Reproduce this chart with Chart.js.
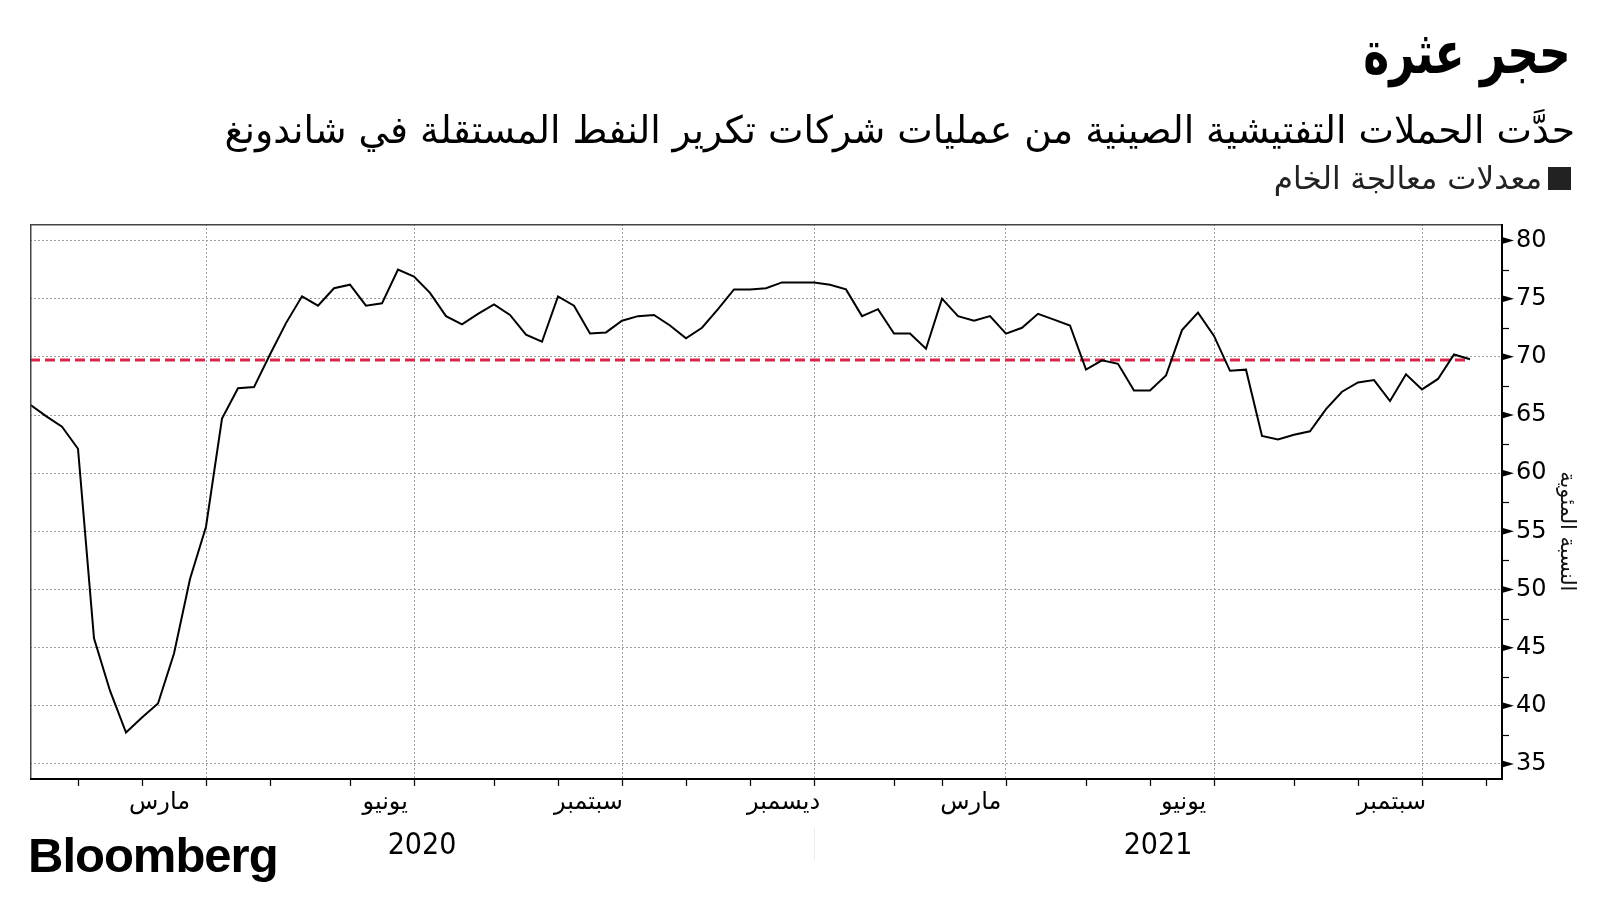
<!DOCTYPE html>
<html>
<head>
<meta charset="utf-8">
<script src="https://cdn.jsdelivr.net/npm/chart.js@4/dist/chart.umd.min.js"></script>
<style>
html,body{margin:0;padding:0;background:#fff;width:1600px;height:900px;overflow:hidden}
#wrap{position:relative;width:1600px;height:900px}
#c{position:absolute;left:0;top:0}
.t{position:absolute;white-space:nowrap;direction:rtl;font-family:"DejaVu Sans",sans-serif;color:#000;line-height:1}
#title{right:29px;top:23px;font-size:50px;font-weight:bold;transform:scale(0.88,1.18);transform-origin:right top}
#subtitle{right:25px;top:112px;font-size:37.7px}
#legend{right:29px;top:163px;font-size:31px;color:#222;display:flex;align-items:center}
#legend .sw{display:inline-block;width:23px;height:23px;background:#222;margin-left:6px}
#logo{position:absolute;left:28px;top:831px;font-family:"Liberation Sans",Arial,sans-serif;font-weight:bold;font-size:49px;line-height:1;letter-spacing:-1px;color:#000}
</style>
</head>
<body>
<div id="wrap">
<canvas id="c" width="1600" height="900"></canvas>
<div id="title" class="t">حجر عثرة</div>
<div id="subtitle" class="t">حدَّت الحملات التفتيشية الصينية من عمليات شركات تكرير النفط المستقلة في شاندونغ</div>
<div id="legend" class="t"><span class="sw"></span><span>معدلات معالجة الخام</span></div>
<div id="logo">Bloomberg</div>
</div>
<script>
// Weekly crude processing rates (%), one value per week, Jan 2020 – Oct 2021
const crudeRuns = [
  65.9, 64.9, 64.0, 62.1, 45.8, 41.3, 37.7, 39.0, 40.2, 44.5,
  50.9, 55.4, 64.7, 67.3, 67.4, 70.2, 72.9, 75.2, 74.4, 75.9,
  76.2, 74.4, 74.6, 77.5, 76.9, 75.5, 73.5, 72.8, 73.7, 74.5,
  73.6, 71.9, 71.3, 75.2, 74.4, 72.0, 72.1, 73.1, 73.5, 73.6,
  72.7, 71.6, 72.5, 74.1, 75.8, 75.8, 75.9, 76.4, 76.4, 76.4,
  76.2, 75.8, 73.5, 74.1, 72.0, 72.0, 70.7, 75.0, 73.5, 73.1,
  73.5, 72.0, 72.5, 73.7, 73.2, 72.7, 68.9, 69.7, 69.4, 67.1,
  67.1, 68.4, 72.3, 73.8, 71.8, 68.8, 68.9, 63.2, 62.9, 63.3,
  63.6, 65.5, 67.0, 67.8, 68.0, 66.2, 68.5, 67.2, 68.1, 70.2,
  69.8
];
// Average rate (red dashed reference line)
const avgRate = 69.73;

// Week index where each month starts (Feb 2020 ... Nov 2021)
const monthStartIdx = [3, 7, 11, 15, 20, 24, 29, 33, 37, 41, 45, 49, 54, 57, 61, 66, 70, 74, 79, 83, 87, 91];
// Quarter starts (vertical grid lines): Apr, Jul, Oct, Jan ...
const quarterStartIdx = [11, 24, 37, 49, 61, 74, 87];
// Month tick labels and their week positions
const xTickLabels = ['مارس', 'يونيو', 'سبتمبر', 'ديسمبر', 'مارس', 'يونيو', 'سبتمبر'];
const xTickLabelPos = [8.1, 22.2, 34.9, 47.1, 58.8, 72.1, 85.1];
// Years and their week positions
const yearLabels = ['2020', '2021'];
const yearLabelPos = [24.5, 70.5];
const yearDividerIdx = 49;
// Y axis ticks
const yTickValues = [35, 40, 45, 50, 55, 60, 65, 70, 75, 80];
const yMinorValues = [37.5, 42.5, 47.5, 52.5, 57.5, 62.5, 67.5, 72.5, 77.5];
const yAxisTitle = 'النسبة المئوية';
const seriesLabel = 'معدلات معالجة الخام';

const decor = {
  id: 'decor',
  afterDraw(chart) {
    const { ctx, chartArea: a, scales: { x, y } } = chart;
    ctx.save();
    // frame
    ctx.strokeStyle = '#444'; ctx.lineWidth = 1.5;
    ctx.beginPath();
    ctx.moveTo(a.left + 0.75, a.bottom); ctx.lineTo(a.left + 0.75, a.top + 0.75); ctx.lineTo(a.right, a.top + 0.75);
    ctx.stroke();
    ctx.strokeStyle = '#000'; ctx.lineWidth = 2;
    ctx.beginPath();
    ctx.moveTo(a.left, a.bottom); ctx.lineTo(a.right, a.bottom); ctx.lineTo(a.right, a.top);
    ctx.stroke();
    // month tick marks
    ctx.lineWidth = 1.3; ctx.strokeStyle = '#111';
    monthStartIdx.forEach(i => {
      const px = Math.round(x.getPixelForValue(i)) + 0.5;
      ctx.beginPath(); ctx.moveTo(px, a.bottom); ctx.lineTo(px, a.bottom + 7); ctx.stroke();
    });
    // month labels
    ctx.fillStyle = '#000';
    ctx.direction = 'rtl';
    ctx.textAlign = 'center'; ctx.textBaseline = 'middle';
    ctx.font = '24px "DejaVu Sans"';
    xTickLabels.forEach((t, j) => {
      ctx.fillText(t, x.getPixelForValue(xTickLabelPos[j]), 803);
    });
    // year labels
    ctx.direction = 'ltr';
    ctx.font = '30px "Liberation Sans Narrow", "DejaVu Sans Condensed", sans-serif';
    yearLabels.forEach((t, j) => {
      ctx.fillText(t, x.getPixelForValue(yearLabelPos[j]), 846);
    });
    // year separator
    const sx = Math.round(x.getPixelForValue(yearDividerIdx)) + 0.5;
    ctx.strokeStyle = '#ececec'; ctx.lineWidth = 1;
    ctx.beginPath(); ctx.moveTo(sx, 828); ctx.lineTo(sx, 860); ctx.stroke();
    // y major markers (triangles) and minor ticks
    ctx.fillStyle = '#000';
    yTickValues.forEach(v => {
      const py = y.getPixelForValue(v);
      ctx.beginPath(); ctx.moveTo(a.right, py - 3.5); ctx.lineTo(a.right + 12, py); ctx.lineTo(a.right, py + 3.5); ctx.closePath(); ctx.fill();
    });
    ctx.strokeStyle = '#000'; ctx.lineWidth = 1.2;
    yMinorValues.forEach(v => {
      const py = Math.round(y.getPixelForValue(v)) + 0.5;
      ctx.beginPath(); ctx.moveTo(a.right, py); ctx.lineTo(a.right + 7, py); ctx.stroke();
    });
    // y axis title (rotated)
    ctx.save();
    ctx.translate(1566, (y.getPixelForValue(60) + y.getPixelForValue(50)) / 2);
    ctx.rotate(Math.PI / 2);
    ctx.direction = 'rtl';
    ctx.textAlign = 'center'; ctx.textBaseline = 'middle';
    ctx.font = '21px "DejaVu Sans"';
    ctx.fillStyle = '#111';
    ctx.fillText(yAxisTitle, 0, 0);
    ctx.restore();
    ctx.restore();
  }
};

new Chart(document.getElementById('c').getContext('2d'), {
  type: 'line',
  data: {
    datasets: [
      {
        label: seriesLabel,
        data: crudeRuns.map((v, i) => ({ x: i, y: v })),
        borderColor: '#000', borderWidth: 2, pointRadius: 0, tension: 0, order: 0
      },
      {
        label: 'المتوسط',
        data: [{ x: 0, y: avgRate }, { x: crudeRuns.length - 1, y: avgRate }],
        borderColor: '#d7264b', borderWidth: 3, borderDash: [10, 5], pointRadius: 0, order: 1
      }
    ]
  },
  options: {
    responsive: false, animation: false, devicePixelRatio: 1,
    layout: { padding: { left: 30, top: 224, right: 0, bottom: 0 } },
    plugins: { legend: { display: false }, tooltip: { enabled: false }, title: { display: false } },
    scales: {
      x: {
        type: 'linear', position: 'bottom', min: 0, max: 92,
        afterBuildTicks: s => { s.ticks = quarterStartIdx.map(v => ({ value: v })); },
        ticks: { display: false },
        grid: { color: '#9c9c9c', lineWidth: 1, drawTicks: false },
        border: { display: false, dash: [2, 2] },
        afterFit: s => { s.height = 121; }
      },
      y: {
        position: 'right', min: 33.71, max: 81.42,
        afterBuildTicks: s => { s.ticks = yTickValues.map(v => ({ value: v })); },
        ticks: { color: '#000', padding: 14, font: { size: 24, family: '"DejaVu Sans"' }, callback: v => String(v) },
        grid: { color: '#9c9c9c', lineWidth: 1, drawTicks: false },
        border: { display: false, dash: [2, 2] },
        afterFit: s => { s.width = 98; }
      }
    }
  },
  plugins: [decor]
});
</script>
</body>
</html>
